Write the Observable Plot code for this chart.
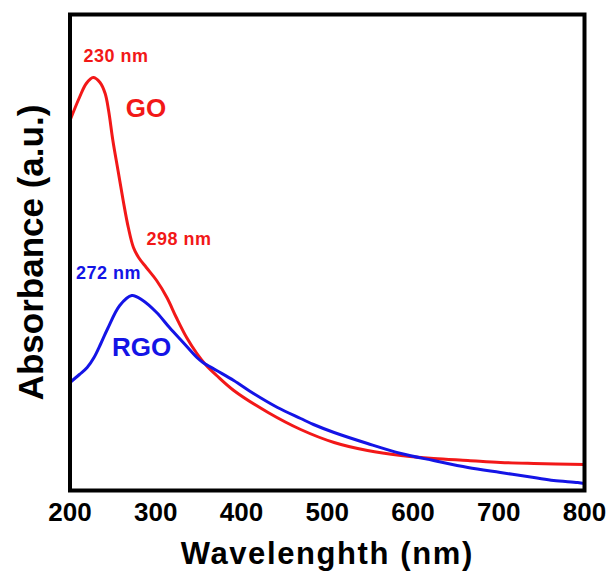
<!DOCTYPE html>
<html>
<head>
<meta charset="utf-8">
<script src="https://cdn.jsdelivr.net/npm/d3@7"></script>
<script src="https://cdn.jsdelivr.net/npm/@observablehq/plot@0.6"></script>
<style>
  html, body { margin: 0; padding: 0; background: #fff; }
</style>
</head>
<body>
<div id="chart"></div>
<script>
// Wavelength (nm) and absorbance (a.u.)
const goWavelength = [200,211,219,227,235,241,245,250,256,262,268,274,280,289,301,313,324,336,348,359,371,391,431,469,508,547,586,624,664,702,741,800];
const goAbsorbance = [3.70,3.93,4.07,4.13,4.08,3.97,3.80,3.50,3.20,2.90,2.63,2.43,2.33,2.23,2.10,1.93,1.73,1.53,1.37,1.25,1.15,1.00,0.78,0.61,0.48,0.40,0.35,0.32,0.30,0.28,0.27,0.26];

const rgoWavelength = [200,211,220,228,236,244,258,272,285,301,316,332,348,355,371,391,414,442,469,484,508,547,586,624,664,702,741,764,792,800];
const rgoAbsorbance = [1.08,1.16,1.23,1.33,1.47,1.62,1.85,1.95,1.90,1.78,1.63,1.48,1.33,1.28,1.20,1.10,0.97,0.83,0.72,0.66,0.58,0.47,0.37,0.30,0.23,0.18,0.13,0.10,0.08,0.07];

const xTicks = [200,300,400,500,600,700,800];

// Annotations: text, wavelength, absorbance, series
const annText = ["230 nm","GO","298 nm","272 nm","RGO"];
const annX =    [253.6, 288.6, 327.1, 244.9, 283.4];
const annY =    [4.34, 3.82, 2.51, 2.17, 1.43];
const annSeries = ["GO","GO","GO","RGO","RGO"];
const annSize = [18, 26, 18, 18, 26];

const RED = "#f21818";
const BLUE = "#1414e6";

const go = goWavelength.map((x, i) => ({x, y: goAbsorbance[i]}));
const rgo = rgoWavelength.map((x, i) => ({x, y: rgoAbsorbance[i]}));
const ann = annText.map((t, i) => ({t, x: annX[i], y: annY[i], s: annSeries[i], size: annSize[i]}));

const plot = Plot.plot({
  width: 609,
  height: 578,
  marginLeft: 69.5,
  marginRight: 25,
  marginTop: 14,
  marginBottom: 88,
  style: {fontFamily: "'Liberation Sans', Arial, sans-serif", color: "black", background: "white"},
  x: {domain: [200, 800]},
  y: {domain: [0, 4.76], axis: null},
  marks: [
    Plot.line(go, {x: "x", y: "y", stroke: RED, strokeWidth: 3, curve: "catmull-rom"}),
    Plot.line(rgo, {x: "x", y: "y", stroke: BLUE, strokeWidth: 3, curve: "catmull-rom"}),
    Plot.text(ann.filter(d => d.size < 20), {x: "x", y: "y", text: "t", fill: d => d.s === "GO" ? RED : BLUE, fontSize: 18, fontWeight: "bold"}),
    Plot.text(ann.filter(d => d.size >= 20), {x: "x", y: "y", text: "t", fill: d => d.s === "GO" ? RED : BLUE, fontSize: 26, fontWeight: "bold"}),
    Plot.frame({stroke: "black", strokeWidth: 4}),
    Plot.axisX(xTicks, {tickSize: 0, tickPadding: 12.5, fontSize: 26, fontWeight: "bold", label: null, tickFormat: d => String(d)}),
    Plot.text(["Wavelenghth (nm)"], {frameAnchor: "bottom", dy: 64, lineAnchor: "middle", textAnchor: "middle", text: d => d, fontSize: 31, fontWeight: "bold", fill: "black"}),
    Plot.text(["Absorbance (a.u.)"], {frameAnchor: "left", dx: -38.7, rotate: -90, lineAnchor: "middle", textAnchor: "middle", text: d => d, fontSize: 35, fontWeight: "bold", fill: "black"})
  ]
});

document.getElementById("chart").appendChild(plot);

// letter spacing tweaks to match the reference's wider glyphs
d3.select(plot).selectAll("text").each(function() {
  const t = this.textContent;
  if (t === "Wavelenghth (nm)") this.style.letterSpacing = "1.6px";
  if (t === "230 nm" || t === "298 nm" || t === "272 nm") this.style.letterSpacing = "0.5px";
});
</script>
</body>
</html>
